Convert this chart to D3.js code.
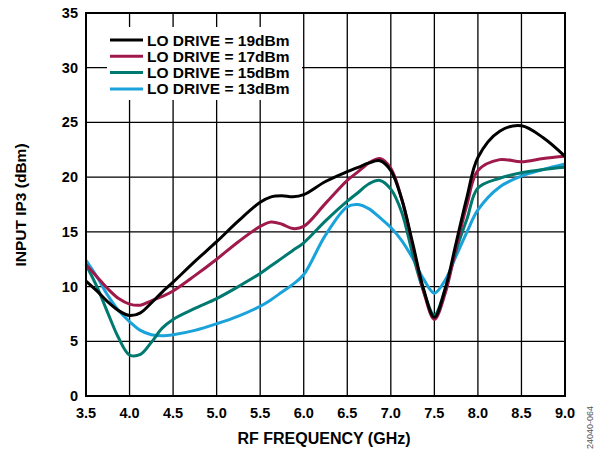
<!DOCTYPE html>
<html><head><meta charset="utf-8">
<script src="https://cdn.jsdelivr.net/npm/d3@7"></script>
<style>body{margin:0;background:#fff}svg{display:block}text{font-family:"Liberation Sans",Arial,sans-serif;font-weight:bold}</style>
</head><body><svg id="c" width="598" height="449"></svg>
<script>
const freq = [3.5,3.625,3.75,3.875,4.0,4.125,4.25,4.375,4.5,4.75,5.0,5.25,5.5,5.625,5.75,5.875,6.0,6.25,6.5,6.625,6.75,6.875,7.0,7.125,7.25,7.375,7.5,7.625,7.75,7.875,8.0,8.25,8.5,8.75,9.0];
const lo19 = [10.5,9.6,8.6,7.8,7.35,7.6,8.5,9.5,10.4,12.3,14.1,16.0,17.7,18.2,18.3,18.2,18.4,19.6,20.5,20.9,21.3,21.5,20.6,18.0,14.0,9.8,7.2,9.8,14.0,18.2,21.8,24.2,24.7,23.6,21.9];
const lo17 = [12.0,10.9,9.8,8.9,8.4,8.3,8.7,9.1,9.6,11.0,12.5,14.1,15.5,15.9,15.7,15.3,15.5,17.6,19.7,20.5,21.3,21.7,20.8,18.0,13.8,9.6,7.0,9.4,13.6,17.5,20.6,21.6,21.4,21.7,21.9];
const lo15 = [12.0,10.0,7.6,5.3,3.75,3.8,4.9,6.2,7.0,8.0,8.9,10.0,11.2,11.9,12.6,13.3,14.0,16.0,17.8,18.6,19.4,19.7,18.9,16.8,13.0,9.6,7.4,9.8,13.3,16.2,19.0,19.9,20.4,20.7,20.9];
const lo13 = [12.4,10.9,9.2,7.8,6.8,6.0,5.6,5.5,5.6,6.0,6.6,7.3,8.2,8.8,9.5,10.2,11.1,14.7,17.3,17.5,17.1,16.3,15.4,14.2,12.6,10.7,9.4,10.6,12.8,15.0,17.0,19.1,20.1,20.7,21.2];
const seriesNames = ["LO DRIVE = 19dBm","LO DRIVE = 17dBm","LO DRIVE = 15dBm","LO DRIVE = 13dBm"];
const seriesColors = ["#000000","#a0194b","#007a70","#1aa2da"];
const xTicks = [3.5,4.0,4.5,5.0,5.5,6.0,6.5,7.0,7.5,8.0,8.5,9.0];
const yTicks = [0,5,10,15,20,25,30,35];

const svg = d3.select("#c");
const L=86,R=565,T=13,B=396;
const x = d3.scaleLinear().domain([3.5,9.0]).range([L,R]);
const y = d3.scaleLinear().domain([0,35]).range([B,T]);

const g = svg.append("g");
g.selectAll(".vx").data(xTicks).join("line").attr("x1",d=>x(d)).attr("x2",d=>x(d)).attr("y1",T).attr("y2",B).attr("stroke","#000").attr("stroke-width",1.3);
g.selectAll(".hy").data(yTicks).join("line").attr("y1",d=>y(d)).attr("y2",d=>y(d)).attr("x1",L).attr("x2",R).attr("stroke","#000").attr("stroke-width",1.3);

svg.append("rect").attr("x",107).attr("y",27).attr("width",195).attr("height",73).attr("fill","#fff");

const data = [lo19,lo17,lo15,lo13];
const line = d3.line().x((d,i)=>x(freq[i])).y(d=>y(d)).curve(d3.curveCatmullRom.alpha(0.5));
svg.append("g").selectAll("path").data(data.slice().reverse()).join("path")
  .attr("d",d=>line(d)).attr("fill","none")
  .attr("stroke",(d,i)=>seriesColors[3-i]).attr("stroke-width",3).attr("stroke-linejoin","round");

svg.append("rect").attr("x",L).attr("y",T).attr("width",R-L).attr("height",B-T).attr("fill","none").attr("stroke","#000").attr("stroke-width",2);

svg.append("g").selectAll("text").data(xTicks).join("text")
  .attr("x",d=>x(d)).attr("y",418).attr("text-anchor","middle").attr("font-size",14.5).text(d=>d.toFixed(1));
svg.append("g").selectAll("text").data(yTicks).join("text")
  .attr("x",78).attr("y",d=>y(d)+5).attr("text-anchor","end").attr("font-size",14.5).text(d=>d);

svg.append("text").attr("x",324).attr("y",444).attr("text-anchor","middle").attr("font-size",16).text("RF FREQUENCY (GHz)");
svg.append("text").attr("transform","translate(26,205) rotate(-90)").attr("text-anchor","middle").attr("font-size",15.5).text("INPUT IP3 (dBm)");

const lg = svg.append("g");
seriesNames.forEach((n,i)=>{
  const yy = 40 + i*16.3;
  lg.append("line").attr("x1",110).attr("x2",143).attr("y1",yy).attr("y2",yy).attr("stroke",seriesColors[i]).attr("stroke-width",3);
  lg.append("text").attr("x",147).attr("y",yy+5.5).attr("font-size",15.5).text(n);
});

svg.append("text").attr("transform","translate(593,449) rotate(-90)").attr("font-size",9).style("font-weight","normal").attr("fill","#555").text("24040-064");
</script></body></html>
